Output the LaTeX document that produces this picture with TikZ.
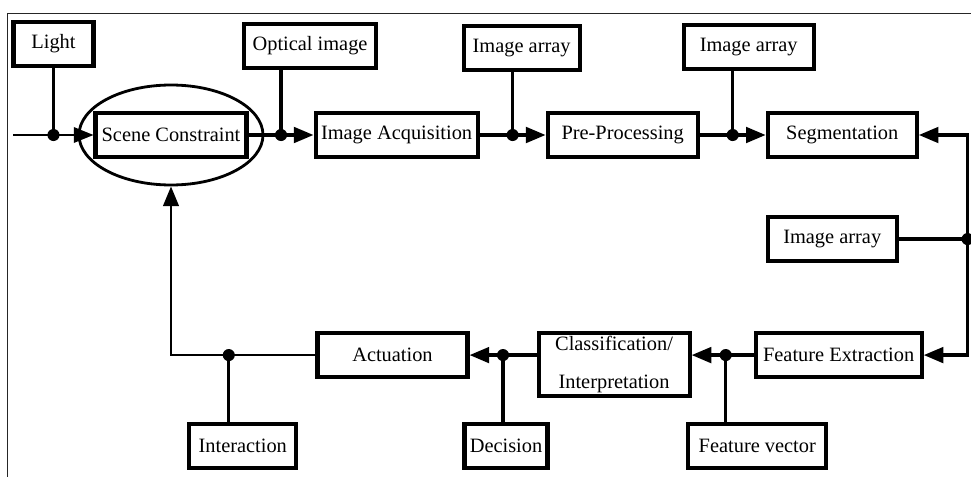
\documentclass[tikz,border=0pt]{standalone}
\usepackage{fontspec}
\setmainfont{Liberation Serif}
\usetikzlibrary{shapes.geometric, arrows.meta, positioning, calc}

\begin{document}
\begin{tikzpicture}[
  node distance=1.6cm,
  blk/.style={
    rectangle, draw=black, line width=2.9pt, fill=white,
    minimum height=1.1cm, inner sep=2pt, align=center,
    font=\fontsize{14.5}{17}\selectfont
  },
  ring/.style={ellipse, draw=black, line width=2pt,
    minimum width=4.6cm, minimum height=2.5cm},
  wire/.style={line width=2.5pt, draw=black},
  arr/.style={-{Triangle[length=14pt, width=11pt]}, wire},
  thinarr/.style={-{Triangle[length=14pt, width=11pt]}, line width=1.4pt},
  fbarr/.style={-{Triangle[length=14pt, width=11pt]}, line width=2pt},
  frame/.style={line width=0.7pt, draw=black!85}
]
\useasboundingbox (0,0) rectangle (24.275,-11.925);

%% Outer frame (top and left edges only)
\draw[frame] (0.175,-11.925) -- (0.175,-0.325) -- (24.275,-0.325);

%% Upper chain: left to right
\node[blk, minimum width=3.775cm] (scene) at (4.275,-3.375) {Scene Constraint};
\node[ring] (ell) at (scene) {};
\node[blk, minimum width=4.05cm, right=1.625cm of scene] (acq) {Image Acquisition};
\node[blk, minimum width=3.75cm, right=1.65cm of acq]    (pre) {Pre-Processing};
\node[blk, minimum width=3.725cm, right=1.65cm of pre]   (seg) {Segmentation};

%% Junctions on the upper chain
\coordinate[left=1cm of scene] (j0);
\coordinate[left=1cm of j0]    (src);
\coordinate (j1) at ($(scene.east)!0.5!(acq.west)$);
\coordinate (j2) at ($(acq.east)!0.5!(pre.west)$);
\coordinate (j3) at ($(pre.east)!0.5!(seg.west)$);

%% Inputs above the upper chain
\node[blk, minimum width=2.0cm, above=1.675cm of j0] (light) {Light};
\node[blk, minimum width=3.3cm, above=1.625cm of j1, xshift=0.725cm] (optic) {Optical image};
\node[blk, minimum width=2.9cm, above=1.575cm of j2, xshift=0.225cm] (arrA) {Image array};
\node[blk, minimum width=3.25cm, above=1.6cm of j3, xshift=0.4cm]    (arrB) {Image array};

%% Upper chain arrows
\draw[thinarr] (src) -- (scene.west);
\draw[arr] (scene.east) -- (acq.west);
\draw[arr] (acq.east)   -- (pre.west);
\draw[arr] (pre.east)   -- (seg.west);
\draw[wire] (light.south) -- (j0);
\draw[wire] (j1) -- (j1 |- optic.south);
\draw[wire] (j2) -- (j2 |- arrA.south);
\draw[wire] (j3) -- (j3 |- arrB.south);

%% Right-hand side: image array feeding both segmentation and features
\coordinate[right=1.22cm of seg] (ra);
\node[blk, minimum width=3.225cm, below=1.4cm of seg, xshift=-0.25cm] (arrC) {Image array};
\node[blk, minimum width=4.15cm, below=4.3cm of seg, xshift=-0.09cm]  (feat) {Feature Extraction};
\coordinate (j4) at (ra |- arrC.east);
\draw[wire] (arrC.east) -- (j4);
\draw[arr] (j4) |- (seg.east);
\draw[arr] (j4) |- (feat.east);

%% Lower chain: right to left
\node[blk, minimum width=3.775cm, minimum height=1.575cm,
      left=1.55cm of feat.north west, anchor=north east] (cls)
      {Classification/\\[10pt]Interpretation};
\node[blk, minimum width=3.75cm,
      left=1.675cm of cls.north west, anchor=north east] (act) {Actuation};

\draw[arr] (feat.west) -- (feat.west -| cls.east);
\draw[arr] (act.east -| cls.west) -- (act.east);
\draw[fbarr] (act.west) -| (ell.south);

%% Junctions on the lower chain
\coordinate (j5) at ($(feat.west)!0.45!(feat.west -| cls.east)$);
\coordinate (j6) at ($(act.east -| cls.west)!0.5!(act.east)$);
\coordinate (j7) at ($(act.west)!0.6!(act.west -| ell.south)$);

%% Outputs below the lower chain
\node[blk, minimum width=3.45cm,  below=1.675cm of j5, xshift=0.79cm]  (fvec)  {Feature vector};
\node[blk, minimum width=2.075cm, below=1.675cm of j6, xshift=0.075cm] (dec)   {Decision};
\node[blk, minimum width=2.675cm, below=1.675cm of j7, xshift=0.35cm]  (inter) {Interaction};
\draw[wire] (j5) -- (j5 |- fvec.north);
\draw[wire] (j6) -- (j6 |- dec.north);
\draw[line width=2pt] (j7) -- (j7 |- inter.north);

%% Junction dots
\foreach \j in {j0,j1,j2,j3,j4,j5,j6,j7}
  \fill (\j) circle (4.3pt);

\end{tikzpicture}
\end{document}
